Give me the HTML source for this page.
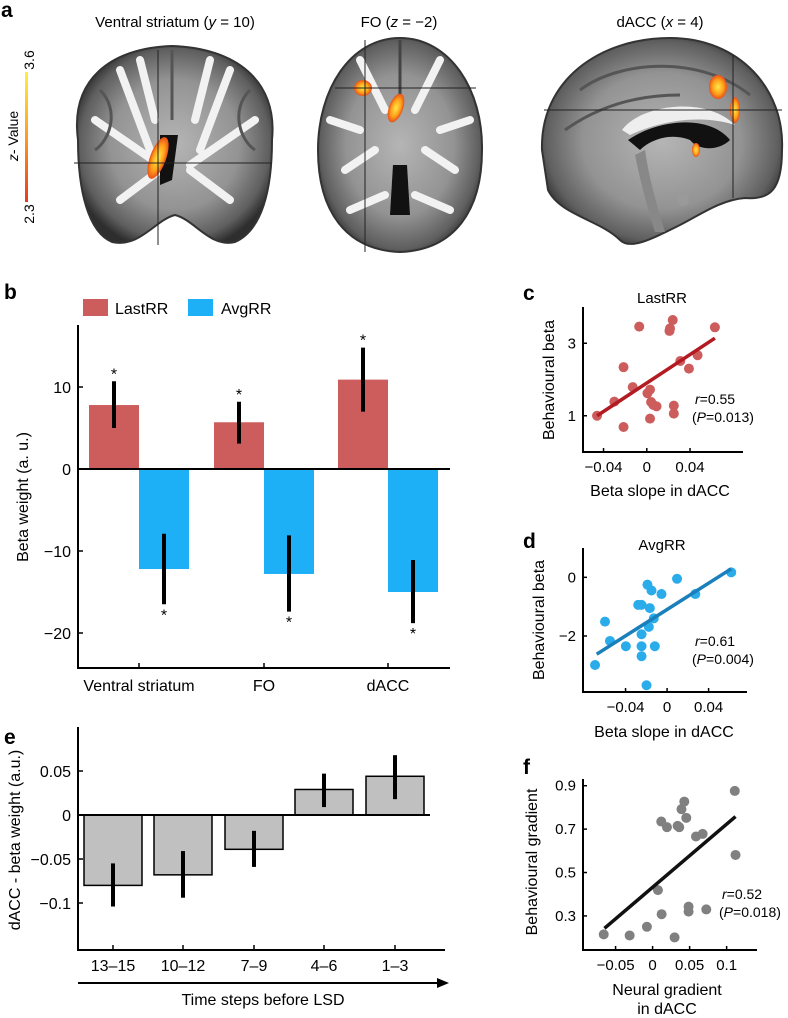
<!DOCTYPE html>
<html><head><meta charset="utf-8">
<style>
html,body{margin:0;padding:0;background:#fff;}
svg{display:block;font-family:"Liberation Sans",Arial,sans-serif;}
</style></head>
<body>
<svg id="fig" width="788" height="1018" viewBox="0 0 788 1018" xmlns="http://www.w3.org/2000/svg">
<defs>
<radialGradient id="brainG" cx="50%" cy="50%" r="55%">
<stop offset="0" stop-color="#b5b5b5"/><stop offset="0.6" stop-color="#939393"/><stop offset="0.88" stop-color="#5f5f5f"/><stop offset="1" stop-color="#2e2e2e"/>
</radialGradient>
<radialGradient id="blob"><stop offset="0" stop-color="#ffe84a"/><stop offset="0.6" stop-color="#ffa21a"/><stop offset="1" stop-color="#e8501a"/></radialGradient>
<linearGradient id="cbar" x1="0" y1="1" x2="0" y2="0"><stop offset="0" stop-color="#e83a1a"/><stop offset="0.5" stop-color="#ff9a20"/><stop offset="1" stop-color="#ffef40"/></linearGradient>
</defs>

<g>
<text x="1" y="17" font-size="21" font-weight="bold">a</text>
<text x="175" y="27" font-size="15" text-anchor="middle">Ventral striatum (<tspan font-style="italic">y</tspan> = 10)</text>
<text x="399" y="27" font-size="15" text-anchor="middle">FO (<tspan font-style="italic">z</tspan> = −2)</text>
<text x="660" y="27" font-size="15" text-anchor="middle">dACC (<tspan font-style="italic">x</tspan> = 4)</text>
<rect x="25" y="72" width="3" height="130" fill="url(#cbar)"/>
<text transform="translate(34,60) rotate(-90)" font-size="14" text-anchor="middle">3.6</text>
<text transform="translate(34,214) rotate(-90)" font-size="14" text-anchor="middle">2.3</text>
<text transform="translate(18,136) rotate(-90)" font-size="14" text-anchor="middle"><tspan font-style="italic">z</tspan>- Value</text>

<g>
<path d="M78,140 C70,80 110,48 172,46 C235,48 278,80 272,140 C272,190 262,230 235,242 C210,248 195,220 175,215 C155,220 140,248 112,242 C88,232 78,190 78,140Z" fill="url(#brainG)" stroke="#333" stroke-width="2"/>
<path d="M120,70 L150,150 M230,70 L200,150 M95,120 L160,165 M255,120 L190,165 M120,200 L160,170 M230,200 L190,170 M140,60 L155,120 M210,60 L195,120" stroke="#f2f2f2" stroke-width="8" fill="none" stroke-linecap="round"/>
<path d="M100,90 C120,110 110,140 95,150 M250,90 C230,110 240,140 255,150 M172,50 L172,120" stroke="#555" stroke-width="3" fill="none"/>
<path d="M160,135 L178,135 L172,180 L160,185Z" fill="#111"/>
<ellipse cx="158" cy="158" rx="8" ry="22" fill="url(#blob)" transform="rotate(20 158 158)"/>
<line x1="158" y1="50" x2="158" y2="245" stroke="#222" stroke-width="1"/>
<line x1="74" y1="163" x2="272" y2="163" stroke="#222" stroke-width="1"/>
</g>
<g>
<path d="M400,38 C450,38 483,90 482,150 C482,210 455,250 400,252 C345,250 318,210 318,150 C318,90 350,38 400,38Z" fill="url(#brainG)" stroke="#333" stroke-width="2"/>
<path d="M360,60 L385,110 M440,60 L415,110 M345,170 L375,150 M455,170 L425,150 M350,210 L385,195 M450,210 L415,195 M330,120 L360,130 M470,120 L440,130" stroke="#f2f2f2" stroke-width="8" fill="none" stroke-linecap="round"/>
<line x1="400" y1="40" x2="400" y2="100" stroke="#444" stroke-width="3"/>
<path d="M393,165 L407,165 L410,215 L390,215Z" fill="#111"/>
<ellipse cx="363" cy="88" rx="9" ry="8" fill="url(#blob)"/>
<ellipse cx="396" cy="108" rx="7" ry="15" fill="url(#blob)" transform="rotate(20 396 108)"/>
<line x1="365" y1="40" x2="365" y2="252" stroke="#222" stroke-width="1"/>
<line x1="335" y1="88" x2="476" y2="88" stroke="#222" stroke-width="1"/>
</g>
<g>
<path d="M542,150 C540,80 600,38 670,38 C740,38 785,90 782,150 C782,190 770,200 745,198 C720,200 700,215 680,225 C650,240 630,250 620,240 C600,220 560,215 548,190Z" fill="url(#brainG)" stroke="#333" stroke-width="2"/>
<path d="M580,90 C620,60 700,55 750,95 M565,130 C600,105 640,95 680,95" stroke="#555" stroke-width="3" fill="none"/>
<path d="M622,130 C640,105 705,95 735,125 C720,120 680,112 630,135Z" fill="#eee"/>
<path d="M628,140 C660,118 710,115 730,140 C720,150 700,152 690,140 C670,132 650,140 640,150Z" fill="#111"/>
<path d="M645,150 C650,185 660,215 665,232 L655,232 C648,210 640,180 635,155Z" fill="#888"/>
<circle cx="683" cy="200" r="6" fill="#9a9a9a"/>
<ellipse cx="718" cy="87" rx="9" ry="12" fill="url(#blob)"/>
<ellipse cx="735" cy="110" rx="5" ry="13" fill="url(#blob)"/>
<ellipse cx="696" cy="150" rx="4" ry="7" fill="url(#blob)"/>
<line x1="733" y1="55" x2="733" y2="198" stroke="#222" stroke-width="1"/>
<line x1="544" y1="110" x2="782" y2="110" stroke="#222" stroke-width="1"/>
</g>
</g>

<g id="pb"></g>
<g id="pe"></g>
<g id="pc"></g>
<g id="pd"></g>
<g id="pf"></g>
</svg>

<script>
// ---------- Panel b data ----------
const bCategories = ["Ventral striatum", "FO", "dACC"];
const bLastRR = [7.8, 5.7, 10.9];
const bLastRRLo = [5.0, 3.1, 7.0];
const bLastRRHi = [10.7, 8.2, 14.8];
const bAvgRR = [-12.2, -12.8, -15.0];
const bAvgRRLo = [-16.5, -17.4, -18.8];
const bAvgRRHi = [-7.9, -8.1, -11.1];
const bTicks = [10, 0, -10, -20];

// ---------- Panel e data ----------
const eCategories = ["13–15", "10–12", "7–9", "4–6", "1–3"];
const eValues = [-0.080, -0.068, -0.039, 0.029, 0.044];
const eErrLo = [-0.104, -0.094, -0.059, 0.009, 0.018];
const eErrHi = [-0.055, -0.041, -0.018, 0.047, 0.068];
const eTicks = [0.05, 0, -0.05, -0.1];
const eTickLabels = ["0.05", "0", "−0.05", "−0.1"];

// ---------- Panel c data ----------
const cX = [-0.046,-0.030,-0.0215,-0.0215,-0.013,-0.007,0.0006,0.003,0.003,0.004,0.006,0.009,0.021,0.0215,0.024,0.025,0.025,0.031,0.039,0.047,0.063];
const cY = [1.0,1.39,0.69,2.34,1.79,3.46,1.62,1.72,0.92,1.38,1.30,1.26,3.34,3.41,3.64,1.28,1.06,2.51,2.30,2.67,3.44];
const cFitX = [-0.046, 0.063];
const cFitY = [1.0, 3.14];
const cXTicks = [-0.04, 0, 0.04];
const cYTicks = [1, 3];

// ---------- Panel d data ----------
const dX = [-0.0694,-0.0598,-0.055,-0.0397,-0.0278,-0.0246,-0.0246,-0.0246,-0.0246,-0.0198,-0.0189,-0.0176,-0.015,-0.0166,-0.0128,-0.0118,-0.0054,0.0096,0.0272,0.0618];
const dY = [-2.99,-1.51,-2.17,-2.35,-0.94,-0.94,-1.94,-2.35,-2.69,-3.68,-0.25,-1.69,-0.45,-1.05,-1.40,-2.35,-0.57,-0.05,-0.57,0.17];
const dFitX = [-0.0678, 0.0618];
const dFitY = [-2.62, 0.29];
const dXTicks = [-0.04, 0, 0.04];
const dYTicks = [0, -2];

// ---------- Panel f data ----------
const fX = [-0.066,-0.031,-0.0077,0.0072,0.0122,0.0117,0.0194,0.0297,0.0338,0.036,0.039,0.0428,0.0455,0.0486,0.0486,0.0586,0.0676,0.0725,0.111,0.112];
const fY = [0.215,0.210,0.250,0.419,0.308,0.735,0.709,0.201,0.715,0.709,0.792,0.827,0.752,0.343,0.320,0.666,0.678,0.330,0.876,0.581];
const fFitX = [-0.065, 0.112];
const fFitY = [0.243, 0.758];
const fXTicks = [-0.05, 0, 0.05, 0.1];
const fYTicks = [0.9, 0.7, 0.5, 0.3];

const NS = "http://www.w3.org/2000/svg";
function mk(parent, tag, attrs, text) {
  const el = document.createElementNS(NS, tag);
  for (const k in attrs) el.setAttribute(k, attrs[k]);
  if (text !== undefined) el.textContent = text;
  parent.appendChild(el);
  return el;
}
function lin(d0,d1,r0,r1){ return v => r0 + (v-d0)/(d1-d0)*(r1-r0); }

// ---------- Panel b ----------
(function(){
  const g = document.getElementById("pb");
  const y = lin(0, 10, 469, 387);
  const centers = [139, 264, 388];
  const bw = 50;
  let t = mk(g,"text",{x:4,y:299,"font-size":21,"font-weight":"bold"},"b");
  
  
  let r = mk(g,"rect",{x:83,y:299,width:25,height:17,fill:"#cd5c5c"});
  
  
  t = mk(g,"text",{x:115,y:314,"font-size":16},"LastRR");
  
  
  r = mk(g,"rect",{x:188,y:299,width:25,height:17,fill:"#1eb0f6"});
  
  
  t = mk(g,"text",{x:221,y:314,"font-size":16},"AvgRR");
  
  
  bCategories.forEach((c,i)=>{
    const cx = centers[i];
    let b = mk(g,"rect",{x:cx-bw,y:y(bLastRR[i]),width:bw,height:y(0)-y(bLastRR[i]),fill:"#cd5c5c"});
    
    
    b = mk(g,"rect",{x:cx,y:y(0),width:bw,height:y(bAvgRR[i])-y(0),fill:"#1eb0f6"});
    
    
    let e = mk(g,"line",{x1:cx-bw/2,x2:cx-bw/2,y1:y(bLastRRLo[i]),y2:y(bLastRRHi[i]),stroke:"#000","stroke-width":4});
    
    
    e = mk(g,"line",{x1:cx+bw/2,x2:cx+bw/2,y1:y(bAvgRRLo[i]),y2:y(bAvgRRHi[i]),stroke:"#000","stroke-width":4});
    
    
    let s = mk(g,"text",{x:cx-bw/2,y:y(bLastRRHi[i])-2,"font-size":16,"text-anchor":"middle"},"*");
    
    
    s = mk(g,"text",{x:cx+bw/2,y:y(bAvgRRLo[i])+16,"font-size":16,"text-anchor":"middle"},"*");
    
    
    let l = mk(g,"text",{x:cx,y:691,"font-size":16,"text-anchor":"middle"},c);
    
    
    let tk = mk(g,"line",{x1:cx,x2:cx,y1:668,y2:663,stroke:"#000","stroke-width":1.5});
    
    
  });
  let ax = mk(g,"line",{x1:78,x2:78,y1:325,y2:669,stroke:"#000","stroke-width":2});
  
  
  ax = mk(g,"line",{x1:77,x2:450,y1:668,y2:668,stroke:"#000","stroke-width":2});
  
  
  ax = mk(g,"line",{x1:78,x2:450,y1:y(0),y2:y(0),stroke:"#000","stroke-width":2});
  
  
  bTicks.forEach(v=>{
    let tk = mk(g,"line",{x1:78,x2:83,y1:y(v),y2:y(v),stroke:"#000","stroke-width":1.5});
    
    
    let tl = mk(g,"text",{x:71,y:y(v)+6,"font-size":16,"text-anchor":"end"},(v<0?"−":"")+Math.abs(v));
    
    
  });
  let yl = mk(g,"text",{transform:"translate(28,497) rotate(-90)","font-size":16,"text-anchor":"middle"},"Beta weight (a. u.)");
  
  
})();

// ---------- Panel e ----------
(function(){
  const g = document.getElementById("pe");
  const y = lin(0, 0.05, 815, 771);
  const centers = [113,183,254,324,395];
  const bw = 58;
  let t = mk(g,"text",{x:4,y:744,"font-size":21,"font-weight":"bold"},"e");
  
  
  eCategories.forEach((c,i)=>{
    const cx = centers[i];
    const v = eValues[i];
    let b = mk(g,"rect",{x:cx-bw/2,y:Math.min(y(v),y(0)),width:bw,height:Math.abs(y(v)-y(0)),fill:"#c0c0c0",stroke:"#000","stroke-width":1.5});
    
    
    let e = mk(g,"line",{x1:cx,x2:cx,y1:y(eErrLo[i]),y2:y(eErrHi[i]),stroke:"#000","stroke-width":4});
    
    
    let tk = mk(g,"line",{x1:cx,x2:cx,y1:950,y2:945,stroke:"#000","stroke-width":1.5});
    
    
    let l = mk(g,"text",{x:cx,y:971,"font-size":16,"text-anchor":"middle"},c);
    
    
  });
  let ax = mk(g,"line",{x1:78,x2:78,y1:727,y2:951,stroke:"#000","stroke-width":2});
  
  
  ax = mk(g,"line",{x1:77,x2:445,y1:950,y2:950,stroke:"#000","stroke-width":2});
  
  
  ax = mk(g,"line",{x1:78,x2:430,y1:y(0),y2:y(0),stroke:"#000","stroke-width":2});
  
  
  eTicks.forEach((v,i)=>{
    let tk = mk(g,"line",{x1:78,x2:83,y1:y(v),y2:y(v),stroke:"#000","stroke-width":1.5});
    
    
    let tl = mk(g,"text",{x:71,y:y(v)+6,"font-size":16,"text-anchor":"end"},eTickLabels[i]);
    
    
  });
  let arr = mk(g,"line",{x1:78,x2:440,y1:983,y2:983,stroke:"#000","stroke-width":2});
  
  
  let ah = mk(g,"polygon",{points:"449,983 437,978 437,988",fill:"#000"});
  
  
  let xl = mk(g,"text",{x:263,y:1005,"font-size":16,"text-anchor":"middle"},"Time steps before LSD");
  
  
  let yl = mk(g,"text",{transform:"translate(20,840) rotate(-90)","font-size":16,"text-anchor":"middle"},"dACC - beta weight (a.u.)");
  
  
})();

// ---------- scatter helper ----------
function scatter(id, cfg){
  const g = document.getElementById(id);
  const x = lin(cfg.xd[0], cfg.xd[1], cfg.xr[0], cfg.xr[1]);
  const y = lin(cfg.yd[0], cfg.yd[1], cfg.yr[0], cfg.yr[1]);
  let t = mk(g,"text",{x:cfg.lx,y:cfg.ly,"font-size":21,"font-weight":"bold"},cfg.letter);
  
  
  if (cfg.title){
    t = mk(g,"text",{x:662,y:cfg.ty,"font-size":15,"text-anchor":"middle"},cfg.title);
    
    
  }
  cfg.px.forEach((v,i)=>{
    let c = mk(g,"circle",{cx:x(v),cy:y(cfg.py[i]),r:5,fill:cfg.dot});
    
    
  });
  let fl = mk(g,"line",{x1:x(cfg.fx[0]),y1:y(cfg.fy[0]),x2:x(cfg.fx[1]),y2:y(cfg.fy[1]),stroke:cfg.line,"stroke-width":3.5});
  
  
  let ax = mk(g,"line",{x1:cfg.xr[0],x2:cfg.xr[0],y1:cfg.yr[1],y2:cfg.yr[0]+1,stroke:"#000","stroke-width":2});
  
  
  ax = mk(g,"line",{x1:cfg.xr[0]-1,x2:cfg.xr[1],y1:cfg.yr[0],y2:cfg.yr[0],stroke:"#000","stroke-width":2});
  
  
  cfg.xt.forEach(v=>{
    let tk = mk(g,"line",{x1:x(v),x2:x(v),y1:cfg.yr[0],y2:cfg.yr[0]-4,stroke:"#000","stroke-width":1.5});
    
    
    let tl = mk(g,"text",{x:x(v),y:cfg.yr[0]+20,"font-size":15,"text-anchor":"middle"},(v<0?"−":"")+Math.abs(v));
    
    
  });
  cfg.yt.forEach(v=>{
    let tk = mk(g,"line",{x1:cfg.xr[0],x2:cfg.xr[0]+4,y1:y(v),y2:y(v),stroke:"#000","stroke-width":1.5});
    
    
    let tl = mk(g,"text",{x:cfg.xr[0]-7,y:y(v)+5,"font-size":15,"text-anchor":"end"},(v<0?"−":"")+Math.abs(v));
    
    
  });
  cfg.xlab.forEach((s,i)=>{
    let xl = mk(g,"text",{x:cfg.xlx,y:cfg.xly+i*19,"font-size":16,"text-anchor":"middle"},s);
    
    
  });
  let yl = mk(g,"text",{transform:"translate("+cfg.ylx+","+cfg.yly+") rotate(-90)","font-size":16,"text-anchor":"middle"},cfg.ylab);
  
  
  let s1 = mk(g,"text",{x:cfg.sx,y:cfg.sy,"font-size":14});
  s1.innerHTML = '<tspan font-style="italic">r</tspan>=' + cfg.r;
  
  
  let s2 = mk(g,"text",{x:cfg.sx-3,y:cfg.sy+18,"font-size":14});
  s2.innerHTML = '(<tspan font-style="italic">P</tspan>=' + cfg.p + ')';
  
  
}

scatter("pc",{letter:"c",lx:523,ly:300,title:"LastRR",ty:303,
  xd:[-0.059,0.089],xr:[583,743],yd:[0,4],yr:[452,307],
  px:cX,py:cY,fx:cFitX,fy:cFitY,xt:cXTicks,yt:cYTicks,dot:"#cd5c5c",line:"#b31b22",
  xlab:["Beta slope in dACC"],xlx:660,xly:496,ylab:"Behavioural beta",ylx:554,yly:380,
  sx:695,sy:404,r:"0.55",p:"0.013"});
scatter("pd",{letter:"d",lx:523,ly:548,title:"AvgRR",ty:550,
  xd:[-0.081,0.077],xr:[583,747],yd:[-3.91,1],yr:[692,548],
  px:dX,py:dY,fx:dFitX,fy:dFitY,xt:dXTicks,yt:dYTicks,dot:"#2aacea",line:"#1a7fbb",
  xlab:["Beta slope in dACC"],xlx:664,xly:737,ylab:"Behavioural beta",ylx:544,yly:620,
  sx:695,sy:646,r:"0.61",p:"0.004"});
scatter("pf",{letter:"f",lx:523,ly:774,title:null,
  xd:[-0.094,0.141],xr:[583,757],yd:[0.143,0.931],yr:[950,779],
  px:fX,py:fY,fx:fFitX,fy:fFitY,xt:fXTicks,yt:fYTicks,dot:"#808080",line:"#111",
  xlab:["Neural gradient","in dACC"],xlx:667,xly:995,ylab:"Behavioural gradient",ylx:537,yly:862,
  sx:722,sy:899,r:"0.52",p:"0.018"});
</script>
</body></html>
